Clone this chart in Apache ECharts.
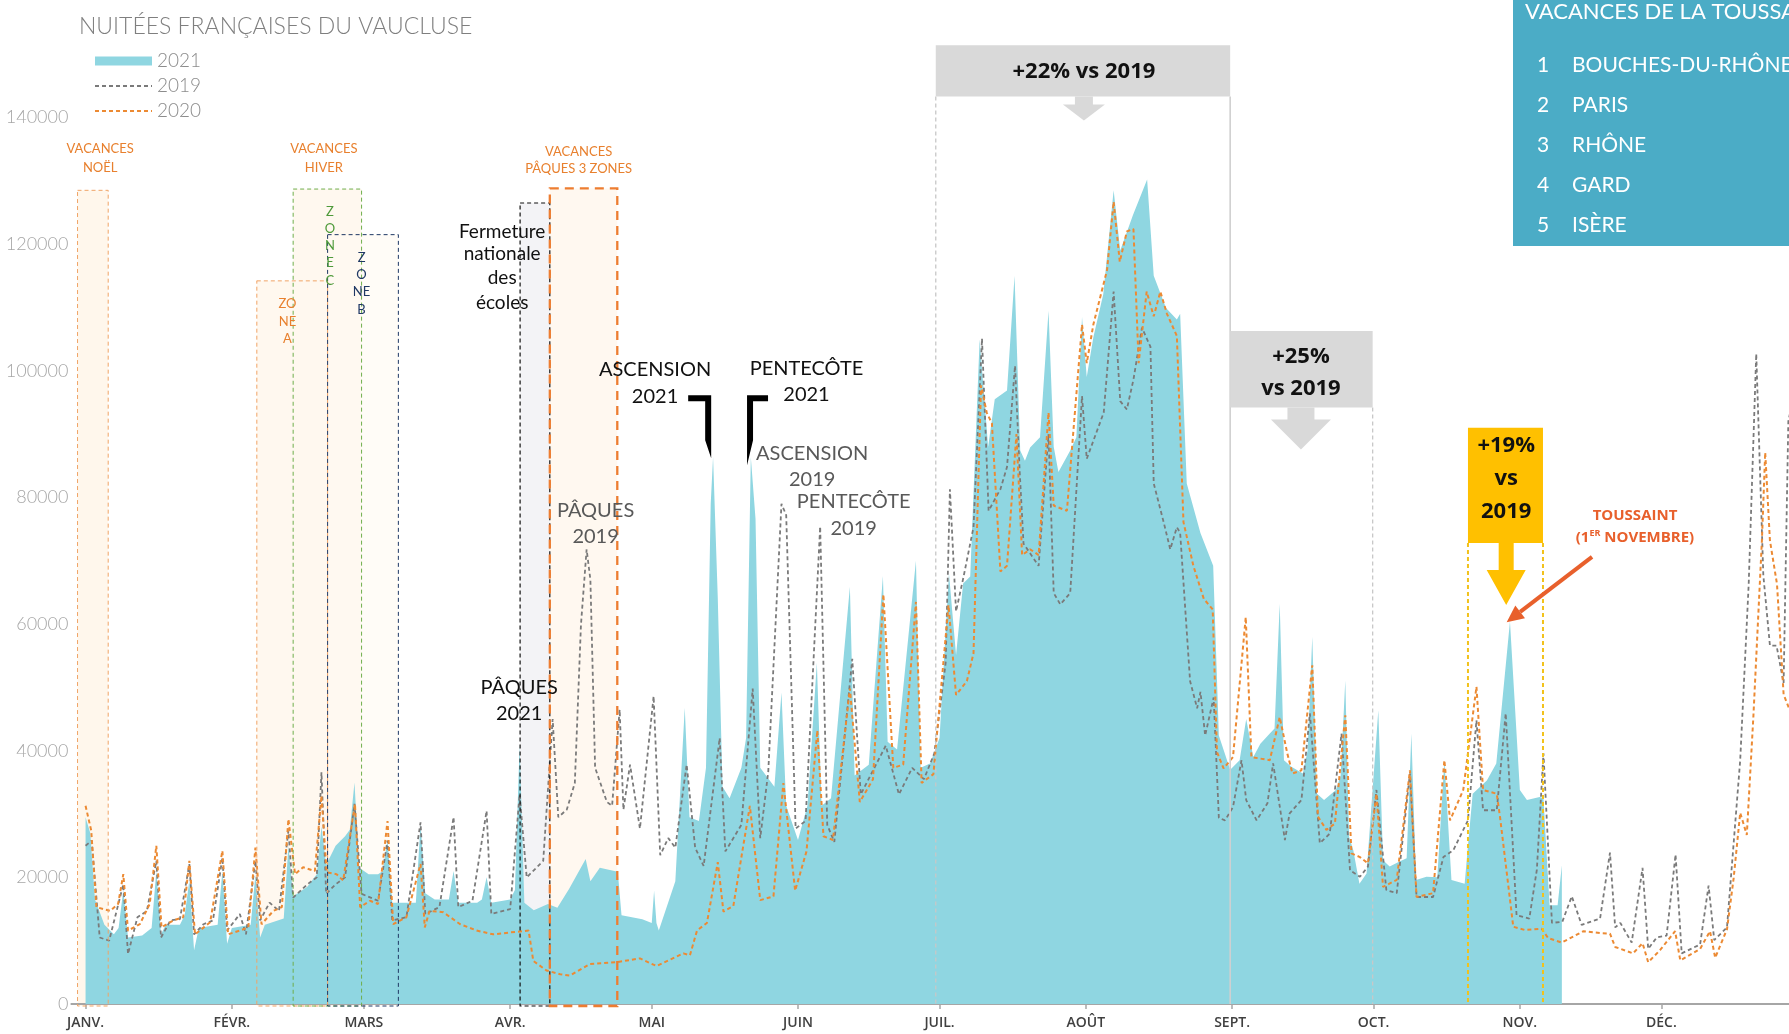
<!DOCTYPE html>
<html><head><meta charset="utf-8">
<script src="https://cdn.jsdelivr.net/npm/echarts@6/dist/echarts.min.js"></script>
<style>html,body{margin:0;padding:0;background:#fff}#c{width:1789px;height:1034px}</style>
</head><body><div id="c"></div>
<script>
// ---------- DATA (day of year from 1 Jan, value = nuitées) ----------
const MONTH_LABELS = ['JANV.','FÉVR.','MARS','AVR.','MAI','JUIN','JUIL.','AOÛT','SEPT.','OCT.','NOV.','DÉC.'];
const MONTH_START_DAYS = [0,31,59,90,120,151,181,212,243,273,304,334];
const SERIES_NAMES = ['2021','2019','2020'];
const TABLE_TITLE = 'VACANCES DE LA TOUSSAINT';
const TABLE_ROWS = ['BOUCHES-DU-RHÔNE','PARIS','RHÔNE','GARD','ISÈRE'];

const s2021 = [[0,29500],[1,27000],[2,16500],[4,12500],[6,11000],[7,12000],[8,18000],[9,10500],[12,10800],[14,12000],[15,21000],[16,11000],[17,12500],[20,12500],[21,14000],[22,19500],[23,8500],[24,12000],[28,12500],[29,21000],[30,9500],[31,12000],[35,12500],[36,20500],[37,10500],[38,12500],[42,13500],[43,25000],[44,17000],[47,18500],[49,20500],[50,28000],[51,22000],[53,25000],[55,26500],[56,27500],[57,35000],[58,21500],[60,20500],[62,20500],[63,21000],[64,26000],[65,16000],[68,16000],[70,16000],[71,28500],[72,17500],[74,16500],[77,16500],[78,21000],[79,16000],[83,16000],[84,16500],[85,20000],[86,16000],[90,16500],[91,18000],[92,41000],[93,16000],[95,14800],[98,15800],[100,15200],[102.5,18200],[106,22900],[107,19400],[109,21500],[112.8,20900],[113.6,14000],[118,13400],[120,12800],[120.5,17900],[121,12800],[121.5,11600],[125,19400],[127,46800],[128,29500],[130,28900],[131.5,37300],[132.5,79000],[133,86400],[134,64100],[135,34300],[136.5,32500],[139,37300],[140,42000],[141,86400],[142,76600],[143,37300],[146,34300],[147.5,49200],[148.5,31300],[151,25900],[153,31300],[155,53900],[156,31300],[158,32500],[162,65900],[163,36100],[166,37800],[169,67600],[170,41400],[172,40200],[176,70000],[177,37300],[179,38000],[181,42000],[183,68000],[184.5,55100],[186,66400],[187.5,67500],[189.5,105000],[191.3,88000],[192.7,95500],[195.3,96900],[196.9,115000],[198.1,87400],[199.1,85800],[200.2,87900],[202.3,89500],[204.1,109500],[205.2,88000],[206.2,84000],[208.7,87400],[210,89500],[211.2,108500],[212.2,99000],[213.6,105300],[215.7,112100],[217.9,128500],[219.3,119000],[222,124600],[225,130200],[226.4,115000],[229,109900],[231.3,108100],[232,109000],[233.4,82200],[236.3,74400],[239,69200],[240.2,42400],[242.6,37000],[244.6,38500],[246,45000],[247.5,39000],[249,41100],[251,42700],[252,43500],[253.1,63200],[254,38500],[255.5,37500],[258,36400],[259,40000],[260,58000],[261,33200],[262.5,32200],[265,33800],[266,36000],[267,51100],[267.8,26400],[268.7,24300],[270,19000],[271.5,20600],[274,46400],[275,22700],[276.4,21700],[278.5,22500],[280,23000],[281,42700],[282,19600],[284.2,20100],[286.5,20000],[288,38500],[289.5,19600],[292.3,19000],[293,25000],[294,33200],[297,35300],[299,38000],[301.9,60400],[304,33800],[305.5,32200],[308.2,32700],[309,32500],[310.3,15600],[312,15600],[312.9,21900]];

const s2019 = [[0,25000],[1.3,25800],[3,10500],[5,10000],[8,18900],[9,7900],[11,13700],[13,14700],[15,22600],[16,10500],[18,13200],[20,13400],[22,22100],[23,11000],[25,12600],[27,13200],[29,23100],[30,11600],[32.7,14200],[34,11000],[36,22600],[37,13200],[39,16000],[41,14700],[43,27400],[44,16800],[47,18900],[49,20000],[50,36600],[51,17400],[53,18900],[55,20000],[57,31600],[58.5,17400],[62,16300],[64,25800],[65,13200],[68,13700],[71,28700],[72,14200],[75,15300],[78,29500],[79,15300],[82,16300],[85,30500],[86,14200],[90,15000],[92,33100],[93.5,20000],[97,22600],[99,45000],[100.2,29500],[102,30700],[103.7,34900],[105,59900],[106.2,71800],[107,67000],[108,37300],[110.5,31900],[111.6,31300],[113.2,46500],[114,30700],[115.4,37800],[117.5,27700],[120.4,48600],[121.8,23500],[123.5,26200],[125,24700],[127.4,37800],[129.2,24700],[131,21800],[134.4,42000],[135.6,24100],[139,28300],[141.4,49800],[143,26200],[144.7,36700],[147.5,79000],[148.5,77200],[150.5,27700],[152.6,28900],[155.7,75400],[157.2,28300],[158.7,25600],[162.5,54500],[164.3,33100],[169.6,40800],[172.4,33100],[175.2,37300],[177.7,35500],[179.9,39600],[182.3,53900],[183.2,81300],[184.5,62000],[186.1,67500],[188.2,75300],[190,105100],[191.4,77900],[193.9,81300],[195.3,84800],[197,100800],[198,83900],[198.8,72700],[202,69200],[204.1,90000],[205.2,64900],[206.6,63100],[208.7,64900],[211.2,96000],[212.2,86100],[215.8,93400],[217.9,112500],[219.3,95200],[220.7,93900],[222.1,98600],[223.9,106800],[225.7,103800],[226.4,82200],[228.5,76100],[229.9,71800],[231.3,75300],[232,74400],[234.1,51000],[235.6,46700],[236.3,49300],[237.3,42400],[239.1,48400],[240.2,29400],[241.5,29000],[243.2,31100],[245,38500],[246,32200],[248.2,29000],[250.5,31700],[251.7,38000],[254.2,25900],[255.2,30100],[257.7,32200],[259.5,45900],[261.6,25400],[263.7,26900],[266.2,42700],[268,21100],[270.1,20100],[271.8,21700],[273.6,33800],[275.7,18000],[277.9,17500],[280.7,36400],[282.1,16900],[285.6,16900],[287.8,23200],[289.9,24300],[293,29000],[294.8,44800],[296.2,30600],[299.1,30600],[301,45900],[303.3,14000],[306,13500],[307.6,21200],[309,39600],[310.8,12800],[313,13000],[315,17000],[317.1,12500],[321,13500],[323.1,23900],[324.2,12100],[325.3,12800],[327.7,9700],[330,21500],[331.2,8700],[333,10500],[335.1,10800],[337,23600],[338.3,8000],[342.2,9400],[344,18700],[345.2,10100],[347.9,12100],[350.7,38500],[352.5,66300],[354.1,102700],[355.6,67700],[357,56600],[358.4,56600],[359.9,50700],[360.9,92000],[362,96000]];

const s2020 = [[0,31300],[1.2,27400],[2.3,15300],[5.2,14700],[6.9,15800],[8,20500],[9,11600],[11.5,12600],[13.6,15800],[15,25000],[16.1,12100],[18.6,13200],[20.7,13700],[22,22600],[23.2,11000],[26.4,12900],[29,24200],[30.2,11000],[32.7,11600],[34.5,12100],[36,24700],[37.3,12600],[39.8,14700],[41.6,15300],[43,29200],[44.4,20500],[46.1,21600],[48.6,21000],[50,32900],[51.1,20800],[53.2,20500],[54.6,19500],[57.1,31600],[58.2,15300],[60.3,16300],[62,15800],[64,28900],[65.2,12600],[68,13700],[71,22100],[71.9,12100],[72.9,14700],[75.8,14500],[79.4,12600],[82.9,11600],[86.4,11000],[90,11300],[93.9,11600],[94.9,6800],[97.7,5300],[100.6,4700],[102.7,4500],[106.9,6300],[112.5,6600],[117.5,7200],[121,6000],[126.7,8000],[128.1,7700],[129.6,11600],[131.7,12800],[134,22400],[135.2,14600],[137.3,15500],[140.8,31300],[143,16400],[145.8,17000],[147.9,34900],[150.4,17900],[152.8,24100],[155.1,43200],[156.4,26500],[158.4,25900],[162,49800],[164.1,31900],[166.9,35500],[169.1,64700],[171.2,37300],[173.3,37800],[176,63500],[177.2,34900],[179.7,36300],[182.9,63000],[184.5,48800],[186.8,51000],[188.2,55400],[189.8,97700],[191,93400],[192.1,91700],[193.9,68300],[195.3,69200],[197.3,90000],[198.5,70900],[200.2,71800],[202,70900],[204.1,93400],[205.2,78700],[208,77900],[211.2,107300],[212.2,101200],[213.6,107300],[216.5,115900],[217.9,126700],[219.2,117200],[220.7,122000],[222.1,122400],[223.2,101200],[224.9,112500],[226.4,108600],[227.8,112500],[229.2,109000],[231.3,105500],[232.7,76100],[234.8,69200],[237,64000],[238.9,62300],[239.8,39800],[241.2,37200],[243.2,39000],[245.9,61100],[247.1,39000],[251,38500],[253.1,45300],[254.7,39600],[255.8,36400],[257.7,36900],[260,53500],[261.2,29600],[263,27500],[264.8,28500],[267,45600],[268.3,23800],[270.1,23200],[271.8,22200],[273.6,33200],[275,18500],[277.9,19600],[280.7,36900],[282.1,16900],[285.6,17500],[288,38500],[289.2,29000],[292,33800],[294.8,50100],[296.2,33800],[299.1,33200],[299.8,29500],[302.6,12200],[305,11700],[308.6,11900],[310,10400],[312.9,9700],[317.5,11500],[321,11200],[323.1,11100],[324.2,9000],[328,8000],[330,9600],[331.2,6600],[333.7,8500],[336.9,11500],[338,6900],[342.2,8700],[344.3,11500],[345.4,7300],[347.9,11800],[349.3,19800],[350.7,30200],[352.1,26700],[353.5,45500],[355.3,73200],[356,87100],[357,73200],[358.5,66300],[359.9,48900],[361,46800],[362,45000]];

// ---------- CHART ----------
const FONT = 'Lato, "Open Sans", sans-serif';
const BOLD = '"Open Sans", "Liberation Sans", sans-serif';
const chart = echarts.init(document.getElementById('c'), null, {renderer:'canvas'});

chart.setOption({
  animation: false,
  backgroundColor: '#ffffff',
  grid: {left: 71.4, right: 0.2, top: 117.5, bottom: 30, containLabel: false},
  legend: {
    orient: 'vertical', left: 94, top: 51, padding: 0, itemWidth: 57, itemHeight: 9, itemGap: 5,
    selectedMode: false,
    textStyle: {color: '#8c8c8c', fontSize: 19, fontFamily: FONT, fontWeight: 300, lineHeight: 20},
    data: [
      {name: SERIES_NAMES[0], icon: 'rect'},
      {name: SERIES_NAMES[1], itemStyle: {opacity: 0}},
      {name: SERIES_NAMES[2], itemStyle: {opacity: 0}}
    ]
  },
  xAxis: {
    type: 'value', min: -3, max: 361,
    splitLine: {show: false},
    axisLine: {show: true, lineStyle: {color: '#a6a6a6', width: 2}},
    axisTick: {show: true, customValues: MONTH_START_DAYS, length: 5, lineStyle: {color: '#a6a6a6', width: 1.5}},
    axisLabel: {
      customValues: MONTH_START_DAYS, margin: 12,
      formatter: v => MONTH_LABELS[MONTH_START_DAYS.indexOf(v)] || '',
      color: '#404040', fontSize: 14, fontWeight: 600, fontFamily: BOLD
    }
  },
  yAxis: {
    type: 'value', min: 0, max: 140000, interval: 20000,
    splitLine: {show: false}, axisLine: {show: false}, axisTick: {show: false},
    axisLabel: {color: '#a6a6a6', fontSize: 18, fontFamily: FONT, fontWeight: 300, margin: 3, formatter: v => String(v)}
  },
  series: [
    {name: SERIES_NAMES[0], type: 'line', data: s2021, symbol: 'none', z: 2, color: '#8FD6E1',
     lineStyle: {width: 0}, areaStyle: {color: '#8FD6E1', opacity: 1}},
    {name: SERIES_NAMES[1], type: 'line', data: s2019, symbol: 'none', z: 3, color: '#7a7a7a',
     lineStyle: {color: '#7a7a7a', width: 1.8, type: [4, 3]}},
    {name: SERIES_NAMES[2], type: 'line', data: s2020, symbol: 'none', z: 4, color: '#EC8A33',
     lineStyle: {color: '#EC8A33', width: 2, type: [4, 3]}}
  ]
});

// ---------- ANNOTATIONS (anchored in data coordinates) ----------
const px = (d, v) => chart.convertToPixel({gridIndex: 0}, [d, v]);
const g = [];
const BOXES = [
  {d0: -1.7, d1: 4.8,  top: 128500, stroke: '#F0A466', fill: '#FFF7EC', w: 1, dash: [4, 3]},   // Noël
  {d0: 36.3, d1: 51.3, top: 114200, stroke: '#F0A466', fill: '#FFF8EF', w: 1, dash: [4, 3]},   // zone A
  {d0: 44.0, d1: 58.5, top: 128700, stroke: '#6FAE4C', fill: '#FFF8EF', w: 1, dash: [4, 3]},   // zone C
  {d0: 51.3, d1: 66.3, top: 121500, stroke: '#1F3864', fill: 'rgba(255,250,242,0.6)', w: 1, dash: [4, 3]}, // zone B
  {d0: 92.1, d1: 98.4, top: 126500, stroke: '#111111', fill: '#F3F3F6', w: 1.2, dash: [4, 3]}, // fermeture
  {d0: 98.4, d1: 112.7, top: 128800, stroke: '#ED7D31', fill: '#FFF8F0', w: 2.3, dash: [9, 6]} // Pâques
];
BOXES.forEach(b => {
  const [x0, y0] = px(b.d0, b.top), [x1, y1] = px(b.d1, 0);
  g.push({type: 'rect', z: 0, silent: true, shape: {x: x0, y: y0, width: x1 - x0, height: y1 - y0 + 2}, style: {fill: b.fill}});
  g.push({type: 'rect', z: 50, silent: true, shape: {x: x0, y: y0, width: x1 - x0, height: y1 - y0 + 2},
          style: {fill: 'none', stroke: b.stroke, lineWidth: b.w, lineDash: b.dash}});
});

function txt(d, v, text, fill, font, extra) {
  const [x, y] = px(d, v);
  g.push({type: 'text', z: 60, silent: true, x: x, y: y,
    style: Object.assign({text: text, fill: fill, font: font, textAlign: 'center', align: 'center',
      textVerticalAlign: 'middle', verticalAlign: 'middle'}, extra || {})});
}
function vline(d, vTop, color, w, dash) {
  const [x, y0] = px(d, vTop), [, y1] = px(d, 0);
  g.push({type: 'line', z: 45, silent: true, shape: {x1: x, y1: y0, x2: x, y2: y1}, style: {stroke: color, lineWidth: w, lineDash: dash}});
}
function box(d0, d1, vTop, vBot, fill) {
  const [x0, y0] = px(d0, vTop), [x1, y1] = px(d1, vBot);
  g.push({type: 'rect', z: 55, silent: true, shape: {x: x0, y: y0, width: x1 - x0, height: y1 - y0}, style: {fill: fill}});
}
function downArrow(d, v, sw, sh, hw, hh, fill) {
  const [cx, ty] = px(d, v);
  g.push({type: 'polygon', z: 55, silent: true, shape: {points: [
    [cx - sw / 2, ty], [cx + sw / 2, ty], [cx + sw / 2, ty + sh], [cx + hw / 2, ty + sh],
    [cx, ty + sh + hh], [cx - hw / 2, ty + sh], [cx - sw / 2, ty + sh]]}, style: {fill: fill}});
}
function bracket(d, v, pts) {
  const [tx, ty] = px(d, v);
  g.push({type: 'polygon', z: 60, silent: true, shape: {points: pts.map(p => [tx + p[0], ty + p[1]])}, style: {fill: '#000'}});
}

const ORANGE_T = '#E8802E';
const f13 = '13px ' + FONT;
// Vacances labels
txt(3.1, 135000, 'VACANCES', ORANGE_T, f13); txt(3.1, 132100, 'NOËL', ORANGE_T, f13);
txt(50.5, 135000, 'VACANCES', ORANGE_T, f13); txt(50.5, 132100, 'HIVER', ORANGE_T, f13);
txt(104.5, 134600, 'VACANCES', ORANGE_T, f13); txt(104.5, 131900, 'PÂQUES 3 ZONES', ORANGE_T, f13);
// Zones
txt(42.8, 110600, 'ZO', ORANGE_T, f13); txt(42.8, 107800, 'NE', ORANGE_T, f13); txt(42.8, 105100, 'A', ORANGE_T, f13);
[['Z',125100],['O',122400],['N',119700],['E',117000],['C',114200]].forEach(a => txt(51.8, a[1], a[0], '#4E9A3A', f13));
[['Z',117800],['O',115100],['NE',112400],['B',109600]].forEach(a => txt(58.5, a[1], a[0], '#1F3864', f13));
// Fermeture
const f18 = '19px ' + FONT;
[['Fermeture',122000],['nationale',118400],['des',114600],['écoles',110800]].forEach(a => txt(88.3, a[1], a[0], '#111', f18));
// Holidays
const f20 = '20px ' + FONT;
txt(91.9, 49900, 'PÂQUES', '#111', f20); txt(91.9, 45800, '2021', '#111', f20);
txt(108.1, 78000, 'PÂQUES', '#595959', f20); txt(108.1, 73900, '2019', '#595959', f20);
txt(120.7, 100200, 'ASCENSION', '#111', f20); txt(120.7, 96000, '2021', '#111', f20);
txt(152.8, 100400, 'PENTECÔTE', '#111', f20); txt(152.8, 96200, '2021', '#111', f20);
txt(154, 87000, 'ASCENSION', '#595959', f20); txt(154, 82900, '2019', '#595959', f20);
txt(162.8, 79300, 'PENTECÔTE', '#595959', f20); txt(162.8, 75100, '2019', '#595959', f20);
bracket(132.6, 86200, [[-23,-63],[0,-63],[0,0],[-6,-18],[-6,-57],[-23,-57]]);
bracket(140.2, 85100, [[21,-70],[0,-70],[0,0],[6,-25],[6,-64],[21,-64]]);

// Comparison boxes
vline(180.2, 143300, '#c8c8c8', 1.3, [4, 3]);
vline(242.6, 143300, '#d0d0d0', 1.6, null);
vline(272.8, 94200, '#c8c8c8', 1.3, [4, 3]);
vline(293.0, 72800, '#F2C21B', 2, [4, 3]);
vline(308.9, 72800, '#F2C21B', 2, [4, 3]);
box(180.2, 242.6, 151400, 143300, '#D9D9D9');
downArrow(211.6, 143300, 18, 8, 42, 16, '#D9D9D9');
box(242.6, 272.8, 106300, 94200, '#D9D9D9');
downArrow(257.6, 94200, 27, 12, 60, 30, '#D9D9D9');
box(293.0, 308.9, 91000, 72800, '#FFC000');
downArrow(301.1, 72800, 15, 27, 39, 35, '#FFC000');
const fb = 'bold 22px ' + BOLD;
txt(211.6, 147300, '+22% vs 2019', '#111', fb);
txt(257.6, 102200, '+25%', '#111', fb); txt(257.6, 97100, 'vs 2019', '#111', fb);
txt(301.1, 88100, '+19%', '#111', fb); txt(301.1, 82900, 'vs', '#111', fb); txt(301.1, 77700, '2019', '#111', fb);

// Toussaint
const RED = '#E8602C';
txt(328.4, 77100, 'TOUSSAINT', RED, 'bold 15px ' + BOLD);
txt(328.4, 73700, '(1{sup|ER} NOVEMBRE)', RED, 'bold 15px ' + BOLD,
    {rich: {sup: {font: 'bold 9px ' + BOLD, fill: RED, verticalAlign: 'top', lineHeight: 16}}});
(function () {
  const [x0, y0] = px(319.3, 70600), [x1, y1] = px(301.2, 60300);
  const dx = x1 - x0, dy = y1 - y0, L = Math.hypot(dx, dy), ux = dx / L, uy = dy / L;
  const hl = 17, hw = 8;
  const bx = x1 - ux * hl, by = y1 - uy * hl;
  g.push({type: 'line', z: 60, silent: true, shape: {x1: x0, y1: y0, x2: bx, y2: by}, style: {stroke: RED, lineWidth: 4}});
  g.push({type: 'polygon', z: 60, silent: true, shape: {points: [[x1, y1], [bx - uy * hw, by + ux * hw], [bx + uy * hw, by - ux * hw]]}, style: {fill: RED}});
})();

// Title
g.push({type: 'text', z: 60, silent: true, x: 79, y: 27,
  style: {text: 'NUITÉES FRANÇAISES DU VAUCLUSE', fill: '#7f7f7f', font: '300 23px ' + FONT,
          textAlign: 'left', align: 'left', textVerticalAlign: 'middle', verticalAlign: 'middle'}});

// Top-right table
g.push({type: 'rect', z: 60, silent: true, shape: {x: 1513, y: 0, width: 280, height: 246}, style: {fill: '#4BACC6'}});
g.push({type: 'text', z: 61, silent: true, x: 1525, y: 12,
  style: {text: TABLE_TITLE, fill: '#fff', font: '22px ' + FONT, textAlign: 'left', align: 'left', textVerticalAlign: 'middle', verticalAlign: 'middle'}});
TABLE_ROWS.forEach((name, i) => {
  const y = 65 + i * 40;
  g.push({type: 'text', z: 61, silent: true, x: 1543, y: y,
    style: {text: String(i + 1), fill: '#fff', font: '21px ' + FONT, textAlign: 'center', align: 'center', textVerticalAlign: 'middle', verticalAlign: 'middle'}});
  g.push({type: 'text', z: 61, silent: true, x: 1572, y: y,
    style: {text: name, fill: '#fff', font: '21px ' + FONT, textAlign: 'left', align: 'left', textVerticalAlign: 'middle', verticalAlign: 'middle'}});
});

chart.setOption({graphic: {elements: g}});
</script></body></html>
